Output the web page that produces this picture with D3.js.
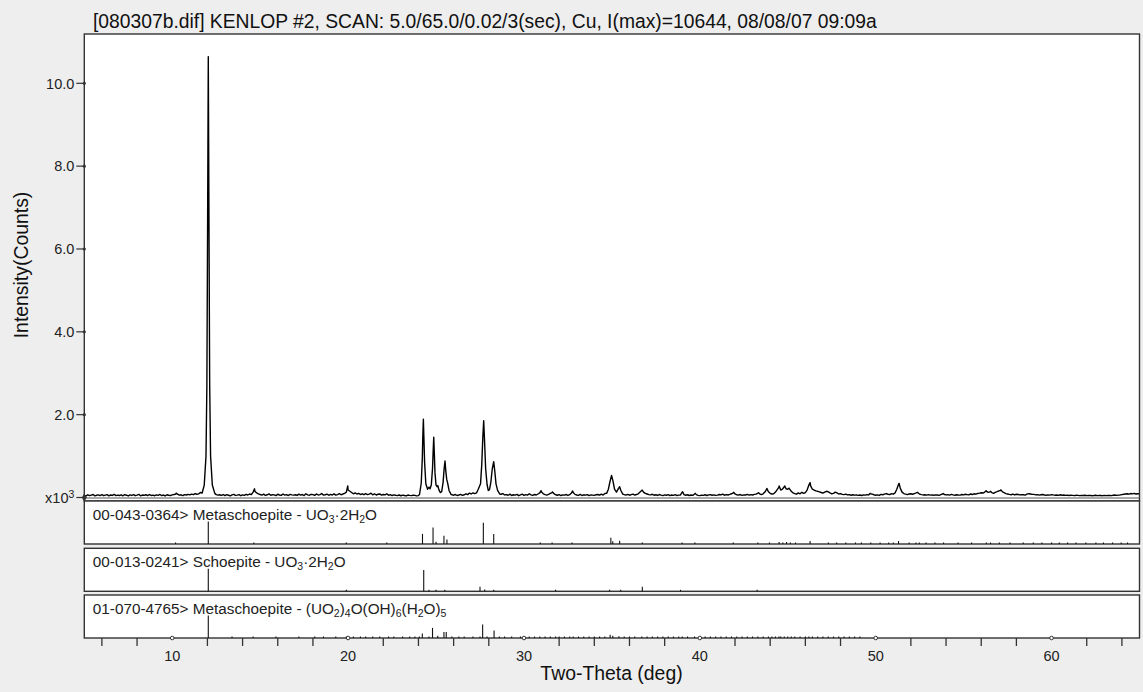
<!DOCTYPE html>
<html>
<head>
<meta charset="utf-8">
<script src="https://cdn.jsdelivr.net/npm/d3@7"></script>
<style>
body { margin: 0; background: #eeeeee; }
svg { display: block; font-family: "Liberation Sans", Arial, sans-serif; }
</style>
</head>
<body>
<svg id="chart"></svg>
<script>
const width = 1143;
const height = 692;

const title = '[080307b.dif] KENLOP #2, SCAN: 5.0/65.0/0.02/3(sec), Cu, I(max)=10644, 08/08/07 09:09a';
const xTitle = 'Two-Theta (deg)';
const yTitle = 'Intensity(Counts)';

// scan trace: background level every 0.1 deg from 5.0 to 65.0
const scanStart = 5.0;
const traceStep = 0.1;
const background = [
  52, 38, 66, 45, 58, 72, 40, 55, 63, 47, 70, 44, 57, 68, 39, 61, 50, 74, 46, 59,
  48, 65, 42, 71, 55, 37, 62, 50, 69, 44, 58, 76, 41, 60, 53, 67, 45, 72, 49, 56,
  43, 64, 51, 73, 46, 60, 38, 67, 55, 49, 62, 71, 85, 80, 58, 66, 47, 70, 60, 75,
  64, 82, 70, 95, 78, 88, 120, 100, 140, 180, 200, 200, 200, 200, 200, 70, 58, 66, 50, 72,
  45, 68, 55, 40, 62, 74, 50, 58, 71, 43, 64, 52, 77, 60, 85, 70, 130, 150, 110, 90,
  72, 58, 80, 49, 66, 88, 54, 70, 62, 45, 78, 60, 52, 84, 57, 69, 48, 75, 63, 58,
  66, 50, 81, 59, 73, 47, 90, 62, 55, 77, 68, 52, 86, 60, 71, 95, 58, 66, 80, 54,
  74, 60, 88, 57, 70, 92, 66, 84, 100, 130, 180, 150, 120, 90, 110, 85, 100, 72, 90, 68,
  95, 70, 82, 104, 66, 90, 60, 78, 86, 58, 72, 64, 90, 55, 70, 48, 62, 53, 45, 60,
  42, 56, 48, 38, 60, 50, 44, 58, 52, 40, 46, 200, 800, 1500, 400, 210, 250, 260, 700, 1100,
  300, 290, 150, 130, 360, 850, 450, 250, 110, 68, 55, 72, 48, 60, 75, 52, 66, 90, 70, 105,
  85, 110, 95, 110, 200, 300, 800, 1800, 800, 320, 180, 350, 700, 800, 350, 170, 90, 78, 95, 62,
  70, 55, 82, 48, 66, 58, 75, 44, 62, 80, 52, 68, 57, 90, 64, 50, 73, 60, 85, 110,
  130, 90, 70, 58, 75, 100, 120, 95, 66, 54, 70, 48, 62, 57, 72, 50, 68, 110, 120, 75,
  60, 52, 74, 48, 65, 56, 70, 45, 62, 58, 50, 68, 72, 55, 80, 60, 95, 120, 180, 300,
  500, 300, 150, 170, 250, 180, 90, 70, 58, 75, 55, 68, 80, 60, 72, 90, 130, 170, 130, 100,
  85, 70, 62, 78, 55, 66, 50, 72, 58, 47, 63, 54, 70, 45, 60, 52, 68, 48, 57, 62,
  130, 70, 55, 66, 48, 60, 52, 85, 70, 50, 45, 58, 52, 66, 48, 62, 70, 55, 64, 50,
  58, 72, 62, 80, 55, 68, 60, 74, 90, 110, 85, 66, 58, 72, 52, 64, 60, 75, 56, 68,
  60, 75, 82, 105, 90, 70, 88, 130, 200, 140, 100, 85, 90, 130, 190, 250, 180, 200, 260, 210,
  200, 210, 150, 110, 95, 80, 110, 90, 125, 100, 120, 180, 300, 280, 200, 180, 160, 150, 135, 120,
  105, 130, 150, 140, 110, 90, 100, 130, 110, 85, 95, 75, 70, 82, 62, 70, 55, 66, 58, 62,
  52, 60, 48, 64, 58, 70, 62, 90, 80, 66, 55, 62, 50, 74, 66, 82, 95, 78, 70, 92,
  80, 110, 200, 320, 220, 130, 95, 80, 70, 85, 90, 78, 95, 110, 115, 80, 70, 62, 66, 58,
  70, 58, 64, 55, 62, 60, 52, 68, 85, 72, 64, 70, 58, 74, 62, 55, 66, 60, 58, 72,
  64, 78, 70, 62, 85, 72, 90, 80, 98, 105, 115, 108, 130, 150, 125, 135, 118, 100, 125, 140,
  160, 170, 140, 115, 95, 85, 75, 66, 80, 62, 78, 72, 64, 70, 66, 58, 80, 92, 84, 76,
  75, 64, 70, 58, 66, 72, 60, 55, 64, 58, 70, 62, 55, 60, 52, 66, 55, 60, 50, 58,
  48, 56, 52, 45, 55, 50, 44, 52, 47, 54, 46, 52, 50, 42, 48, 55, 45, 50, 47, 44,
  50, 44, 48, 52, 46, 55, 60, 52, 58, 62, 70, 78, 85, 90, 80, 95, 88, 100, 85, 92,
  90
];

// outlines of the strong reflections, [2theta, counts]
const mainPeak = [
  [11.70, 110], [11.82, 300], [11.92, 1000], [11.97, 2700], [12.01, 6500],
  [12.05, 10644], [12.09, 6500], [12.13, 2700], [12.18, 1000], [12.28, 300], [12.42, 100]
];
const peaks24 = [
  [24.06, 70], [24.16, 350], [24.22, 950], [24.25, 1500], [24.28, 1890], [24.31, 1450],
  [24.35, 850], [24.42, 330], [24.52, 200], [24.60, 250], [24.66, 210], [24.73, 300],
  [24.80, 700], [24.84, 1150], [24.87, 1454], [24.90, 1100], [24.94, 600], [25.00, 300],
  [25.06, 260], [25.10, 290], [25.16, 190], [25.24, 120], [25.32, 140], [25.40, 360],
  [25.46, 690], [25.51, 880], [25.56, 620], [25.61, 430], [25.66, 350], [25.74, 170], [25.86, 70]
];
const peaks28 = [
  [27.30, 110], [27.40, 200], [27.46, 260], [27.53, 330], [27.60, 800], [27.66, 1450],
  [27.71, 1855], [27.76, 1350], [27.82, 700], [27.90, 320], [27.97, 170], [28.04, 190],
  [28.12, 380], [28.20, 700], [28.28, 865], [28.34, 640], [28.41, 330], [28.50, 170], [28.62, 85]
];
const peaks35 = [
  [34.70, 100], [34.80, 200], [34.90, 400], [34.98, 530], [35.06, 400], [35.15, 200],
  [35.26, 130], [35.36, 210], [35.44, 260], [35.51, 170], [35.62, 80]
];
const minorPeaks = [
  [10.22, 105], [14.68, 210], [19.98, 280], [30.97, 165], [31.62, 135], [32.77, 157],
  [36.72, 180], [39.02, 140], [39.74, 100], [41.92, 125], [43.34, 115], [43.81, 220],
  [44.51, 280], [44.83, 280], [45.08, 225], [46.27, 360], [49.68, 100], [51.33, 340],
  [52.39, 125], [53.85, 95], [56.28, 165], [56.52, 150], [57.12, 185]
];

const yTicks = [2000, 4000, 6000, 8000, 10000];
const yTickLabels = ['2.0', '4.0', '6.0', '8.0', '10.0'];
const xLabelTicks = [10, 20, 30, 40, 50, 60];
const xMinorTicks = [6, 8, 12, 14, 16, 18, 22, 24, 26, 28, 32, 34, 36, 38, 42, 44, 46, 48, 52, 54, 56, 58, 62, 64];

// reference cards, "_n" marks a subscript
const cardLabels = [
  '00-043-0364> Metaschoepite - UO_3·2H_2O',
  '00-013-0241> Schoepite - UO_3·2H_2O',
  '01-070-4765> Metaschoepite - (UO_2)_4O(OH)_6(H_2O)_5'
];
const sticksMeta = [
  [10.19, 2], [12.05, 100], [14.64, 3], [19.9, 3], [22.2, 2], [24.23, 45], [24.83, 73],
  [25.0, 10], [25.45, 37], [25.62, 20], [27.69, 94], [28.28, 45], [30.93, 3], [31.6, 3],
  [32.73, 4], [34.94, 28], [35.05, 12], [35.44, 15], [36.73, 3], [38.99, 3], [39.72, 3],
  [41.9, 2], [43.3, 3], [43.96, 4], [44.51, 9], [44.72, 6], [44.93, 9], [45.15, 5], [45.44, 3],
  [46.27, 13], [47.31, 2], [47.78, 2], [48.3, 2], [48.85, 2], [49.19, 2], [49.72, 2],
  [50.25, 2], [50.74, 3], [51.0, 3], [51.3, 13], [51.9, 2], [52.29, 3], [52.48, 2],
  [52.86, 2], [53.37, 2], [53.86, 2], [54.68, 2], [55.45, 2], [56.29, 3], [56.53, 3],
  [57.03, 2], [57.64, 2], [58.39, 2], [58.96, 2], [59.45, 2], [60.0, 2], [60.44, 2],
  [60.91, 2], [61.39, 2], [61.95, 2], [62.52, 2], [62.95, 2], [63.47, 2], [63.96, 2], [64.32, 2]
];
const sticksSchoep = [
  [12.05, 100], [19.9, 3], [24.3, 95], [24.6, 3], [25.0, 3], [25.5, 3], [27.5, 20],
  [27.77, 8], [28.28, 6], [31.8, 2], [34.87, 5], [35.5, 3], [36.73, 20], [38.9, 2], [43.26, 2]
];
const sticksMeta2 = [
  [12.05, 100], [13.4, 2], [14.6, 3], [15.9, 2], [17.2, 2], [18.1, 2], [18.6, 2], [19.3, 2],
  [19.9, 3], [20.3, 2], [20.7, 2], [21.0, 2], [21.4, 2], [21.8, 2], [22.3, 2], [22.6, 3],
  [23.1, 2], [23.5, 2], [23.8, 2], [24.05, 6], [24.22, 20], [24.6, 5], [24.8, 45], [25.1, 10],
  [25.45, 27], [25.58, 27], [25.9, 2], [26.3, 3], [26.6, 2], [27.1, 2], [27.5, 3], [27.65, 60],
  [27.9, 3], [28.3, 33], [28.6, 3], [28.9, 2], [29.3, 2], [29.8, 2], [30.3, 3], [30.6, 2],
  [30.9, 3], [31.2, 2], [31.5, 2], [31.8, 2], [32.0, 2], [32.3, 2], [32.6, 2], [32.8, 3],
  [33.1, 2], [33.4, 2], [33.7, 2], [34.0, 2], [34.3, 2], [34.6, 3], [34.9, 15], [35.05, 10],
  [35.4, 8], [35.7, 2], [36.0, 2], [36.3, 2], [36.7, 3], [37.0, 2], [37.3, 2], [37.6, 2],
  [37.9, 2], [38.2, 2], [38.5, 2], [38.8, 2], [39.0, 3], [39.3, 2], [39.7, 2], [40.0, 2],
  [40.3, 2], [40.6, 2], [40.9, 2], [41.2, 2], [41.5, 2], [41.8, 2], [42.1, 2], [42.4, 2],
  [42.7, 2], [43.0, 2], [43.3, 2], [43.6, 3], [43.9, 4], [44.1, 3], [44.3, 3], [44.5, 5],
  [44.6, 4], [44.8, 5], [45.0, 4], [45.2, 3], [45.4, 3], [45.7, 2], [46.0, 3], [46.2, 5],
  [46.4, 4], [46.7, 2], [47.0, 2], [47.3, 2], [47.6, 2], [47.9, 2], [48.2, 2], [48.5, 2],
  [48.8, 2], [49.1, 2]
];
const cardSticks = [sticksMeta, sticksSchoep, sticksMeta2];

// layout
const plotLeft = 84.3;
const plotRight = 1139.5;
const plotTop = 34;
const plotBottom = 501;
const panelTops = [501, 548.3, 595];
const panelHeight = 43;
const stickMax = 22.5;

const svg = d3.select('#chart')
  .attr('width', width)
  .attr('height', height);

svg.append('rect')
  .attr('width', width)
  .attr('height', height)
  .attr('fill', '#eeeeee');

const x = d3.scaleLinear().domain([5, 65]).range([plotLeft, plotRight]);
const y = d3.scaleLinear().domain([0, 10000]).range([497.5, 83.3]);

// main plot
svg.append('rect')
  .attr('x', plotLeft)
  .attr('y', plotTop)
  .attr('width', plotRight - plotLeft)
  .attr('height', plotBottom - plotTop)
  .attr('fill', '#fff');

svg.append('defs').append('clipPath')
  .attr('id', 'plot-clip')
  .append('rect')
  .attr('x', plotLeft)
  .attr('y', plotTop)
  .attr('width', plotRight - plotLeft)
  .attr('height', plotBottom - plotTop);

svg.append('line')
  .attr('x1', plotLeft)
  .attr('x2', plotRight)
  .attr('y1', y(0) + 0.5)
  .attr('y2', y(0) + 0.5)
  .attr('stroke', '#8c8c8c')
  .attr('stroke-width', 1.6);

const peakGroups = [mainPeak, peaks24, peaks28, peaks35];
const spans = peakGroups.map((g) => [g[0][0], g[g.length - 1][0]]);
const trace = background
  .map((v, i) => [scanStart + i * traceStep, v])
  .filter((p) => !spans.some((s) => p[0] >= s[0] - 1e-6 && p[0] <= s[1] + 1e-6))
  .concat(...peakGroups, minorPeaks)
  .sort((a, b) => a[0] - b[0]);

const line = d3.line()
  .x((d) => x(d[0]))
  .y((d) => y(d[1]));

svg.append('path')
  .datum(trace)
  .attr('clip-path', 'url(#plot-clip)')
  .attr('d', line)
  .attr('fill', 'none')
  .attr('stroke', '#000')
  .attr('stroke-width', 1.4)
  .attr('stroke-linejoin', 'round');

svg.append('rect')
  .attr('x', plotLeft)
  .attr('y', plotTop)
  .attr('width', plotRight - plotLeft)
  .attr('height', plotBottom - plotTop)
  .attr('fill', 'none')
  .attr('stroke', '#333')
  .attr('stroke-width', 1.4);

// y ticks
const yt = svg.append('g').selectAll('g')
  .data(yTicks)
  .join('g')
  .attr('transform', (d) => `translate(${plotLeft},${y(d)})`);

yt.append('line')
  .attr('x1', -8)
  .attr('x2', 0)
  .attr('stroke', '#333')
  .attr('stroke-width', 1.2);

yt.append('circle')
  .attr('r', 1.6)
  .attr('fill', '#333');

yt.append('text')
  .attr('x', -10)
  .attr('dy', '0.36em')
  .attr('text-anchor', 'end')
  .attr('font-size', 14.5)
  .attr('fill', '#222')
  .text((d, i) => yTickLabels[i]);

const zeroTick = svg.append('g')
  .attr('transform', `translate(${plotLeft},${y(0)})`);

zeroTick.append('line')
  .attr('x1', -8)
  .attr('x2', 0)
  .attr('stroke', '#333')
  .attr('stroke-width', 1.2);

zeroTick.append('path')
  .attr('d', d3.symbol(d3.symbolDiamond, 22))
  .attr('fill', '#333');

const zeroLabel = zeroTick.append('text')
  .attr('x', -10)
  .attr('dy', '0.36em')
  .attr('text-anchor', 'end')
  .attr('font-size', 14.5)
  .attr('fill', '#222');
zeroLabel.append('tspan').text('x10');
zeroLabel.append('tspan')
  .attr('dy', '-0.45em')
  .attr('font-size', 10.5)
  .text('3');

// reference card panels
function addLabel(sel, str) {
  const parts = str.split(/_(\d)/);
  let shift = 0;
  parts.forEach((p, i) => {
    if (!p) return;
    const sub = i % 2 === 1;
    const next = sub ? 3.5 : 0;
    sel.append('tspan')
      .attr('dy', next - shift)
      .attr('font-size', sub ? 10.5 : null)
      .text(p);
    shift = next;
  });
}

const stickY = d3.scaleLinear().domain([0, 100]).range([0, stickMax]);

cardLabels.forEach((label, k) => {
  const top = panelTops[k];
  const bottom = top + panelHeight;
  const g = svg.append('g');

  g.append('rect')
    .attr('x', plotLeft)
    .attr('y', top)
    .attr('width', plotRight - plotLeft)
    .attr('height', panelHeight)
    .attr('fill', '#fff')
    .attr('stroke', '#333')
    .attr('stroke-width', 1.4);

  g.selectAll('line.stick')
    .data(cardSticks[k])
    .join('line')
    .attr('class', 'stick')
    .attr('x1', (d) => x(d[0]))
    .attr('x2', (d) => x(d[0]))
    .attr('y1', bottom)
    .attr('y2', (d) => bottom - Math.max(stickY(d[1]), 1.5))
    .attr('stroke', '#111')
    .attr('stroke-width', 1.1);

  const t = g.append('text')
    .attr('x', plotLeft + 8.5)
    .attr('y', top + 18.5)
    .attr('font-size', 15.3)
    .attr('fill', '#222');
  addLabel(t, label);
});

// x axis under the last panel
const axisY = panelTops[2] + panelHeight;

svg.append('g').selectAll('line')
  .data(xMinorTicks)
  .join('line')
  .attr('x1', (d) => x(d))
  .attr('x2', (d) => x(d))
  .attr('y1', axisY)
  .attr('y2', axisY + 8)
  .attr('stroke', '#333')
  .attr('stroke-width', 1.3);

const xl = svg.append('g').selectAll('g')
  .data(xLabelTicks)
  .join('g')
  .attr('transform', (d) => `translate(${x(d)},${axisY})`);

xl.append('circle')
  .attr('r', 1.8)
  .attr('fill', '#fff')
  .attr('stroke', '#333')
  .attr('stroke-width', 1);

xl.append('text')
  .attr('y', 23)
  .attr('text-anchor', 'middle')
  .attr('font-size', 14.5)
  .attr('fill', '#222')
  .text((d) => d);

// titles
svg.append('text')
  .attr('x', 93)
  .attr('y', 28.3)
  .attr('font-size', 19.3)
  .attr('fill', '#111')
  .text(title);

svg.append('text')
  .attr('x', 611.5)
  .attr('y', 680)
  .attr('text-anchor', 'middle')
  .attr('font-size', 19.4)
  .attr('fill', '#111')
  .text(xTitle);

svg.append('text')
  .attr('transform', 'translate(28,265) rotate(-90)')
  .attr('text-anchor', 'middle')
  .attr('font-size', 19.4)
  .attr('fill', '#111')
  .text(yTitle);
</script>
</body>
</html>
